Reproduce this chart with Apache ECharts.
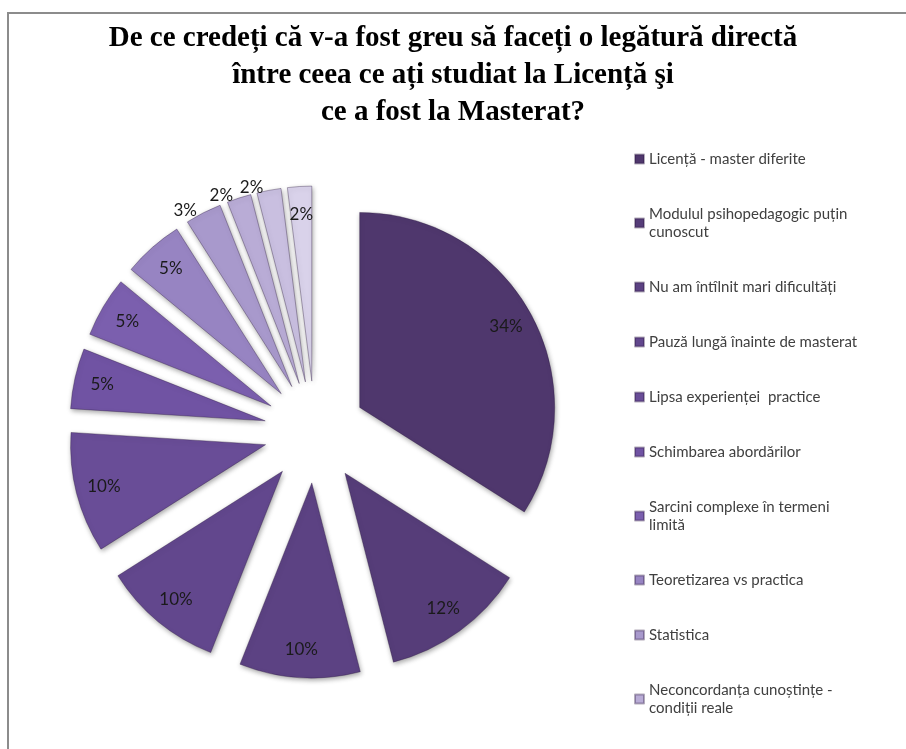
<!DOCTYPE html>
<html>
<head>
<meta charset="utf-8">
<title>Licență - Masterat</title>
<script src="https://cdn.jsdelivr.net/npm/echarts@6/dist/echarts.min.js"></script>
<style>
  html, body { margin: 0; padding: 0; background: #fff; }
  #main { width: 906px; height: 749px; }
</style>
</head>
<body>
<div id="main"></div>
<script>
// motivele, in ordinea feliilor (de la ora 12, in sensul acelor de ceasornic)
var reasons = [
  'Licență - master diferite',
  'Modulul psihopedagogic puțin cunoscut',
  'Nu am întîlnit mari dificultăți',
  'Pauză lungă înainte de masterat',
  'Lipsa experienței  practice',
  'Schimbarea abordărilor',
  'Sarcini complexe în termeni limită',
  'Teoretizarea vs practica',
  'Statistica',
  'Neconcordanța cunoștințe - condiții reale',
  'Altele 1',
  'Altele 2'
];
var percents = [34, 12, 10, 10, 10, 5, 5, 5, 3, 2, 2, 2];
// doar primele 10 apar in legenda (ca in original)
var legendNames = reasons.slice(0, 10);

var sliceColors = ['#4f376d', '#563d79', '#5c4283', '#62478d', '#694d97',
  '#7053a3', '#7b5fae', '#9784c2', '#a899cc', '#b9acd6', '#c9bfe0', '#d9d2ea'];

// randuri rupte in legenda
var legendWrap = {
  'Modulul psihopedagogic puțin cunoscut': 'Modulul psihopedagogic puțin\ncunoscut',
  'Sarcini complexe în termeni limită': 'Sarcini complexe în termeni\nlimită',
  'Neconcordanța cunoștințe - condiții reale': 'Neconcordanța cunoștințe -\ncondiții reale'
};

var chart = echarts.init(document.getElementById('main'));

var center = [315, 432];
var offset = 51;

function isOutside(i) {
  // feliile mici de sus au eticheta in afara
  return i >= 8 && i <= 10;
}

var sliceData = reasons.map(function (name, i) {
  return {
    name: name,
    value: percents[i],
    selected: true,
    itemStyle: { color: sliceColors[i] },
    label: { show: isOutside(i) }
  };
});

// serie transparenta, doar pentru a pune etichetele mai aproape de margine
var labelData = reasons.map(function (name, i) {
  return {
    name: name,
    value: percents[i],
    selected: true,
    label: { show: !isOutside(i) }
  };
});

var option = {
  backgroundColor: '#ffffff',
  animation: false,
  title: {
    text: 'De ce credeți că v-a fost greu să faceți o legătură directă\nîntre ceea ce ați studiat la Licență şi\nce a fost la Masterat?',
    left: 'center',
    top: 15,
    textStyle: {
      fontFamily: 'Liberation Serif',
      fontWeight: 'bold',
      fontSize: 29,
      lineHeight: 37,
      color: '#000'
    }
  },
  graphic: [{
    type: 'rect',
    z: -10,
    shape: { x: 8, y: 13, width: 1000, height: 1000 },
    style: { fill: 'none', stroke: '#8c8c8c', lineWidth: 2 }
  }],
  legend: {
    data: legendNames,
    orient: 'vertical',
    left: 629,
    top: 145,
    icon: 'rect',
    itemWidth: 9,
    itemHeight: 9,
    itemGap: 37,
    selectedMode: false,
    formatter: function (name) {
      return legendWrap[name] || name;
    },
    textStyle: {
      fontFamily: 'Lato',
      fontSize: 15,
      lineHeight: 18,
      color: '#404040'
    }
  },
  series: [
    {
      name: 'procente',
      type: 'pie',
      center: center,
      radius: 195,
      startAngle: 90,
      clockwise: true,
      selectedMode: 'multiple',
      selectedOffset: offset,
      avoidLabelOverlap: false,
      itemStyle: {
        borderColor: 'rgba(40,20,60,0.35)',
        borderWidth: 1,
        shadowBlur: 5,
        shadowColor: 'rgba(0,0,0,0.35)',
        shadowOffsetX: 1,
        shadowOffsetY: 2
      },
      select: {
        itemStyle: { borderColor: 'rgba(40,20,60,0.35)', borderWidth: 1 }
      },
      emphasis: { disabled: true },
      label: {
        position: 'outside',
        formatter: '{c}%',
        fontFamily: 'Lato',
        fontSize: 17,
        color: '#1a1a1a'
      },
      labelLine: { show: false, length: 3, length2: 0 },
      data: sliceData
    },
    {
      name: 'etichete',
      type: 'pie',
      center: center,
      radius: 328,
      startAngle: 90,
      clockwise: true,
      silent: true,
      selectedMode: 'multiple',
      selectedOffset: offset,
      avoidLabelOverlap: false,
      itemStyle: { color: 'rgba(0,0,0,0)' },
      select: { itemStyle: { color: 'rgba(0,0,0,0)', borderWidth: 0 } },
      emphasis: { disabled: true },
      label: {
        position: 'inside',
        formatter: '{c}%',
        fontFamily: 'Lato',
        fontSize: 17,
        color: '#1a1a1a'
      },
      labelLine: { show: false },
      data: labelData
    }
  ]
};

chart.setOption(option);
</script>
</body>
</html>
